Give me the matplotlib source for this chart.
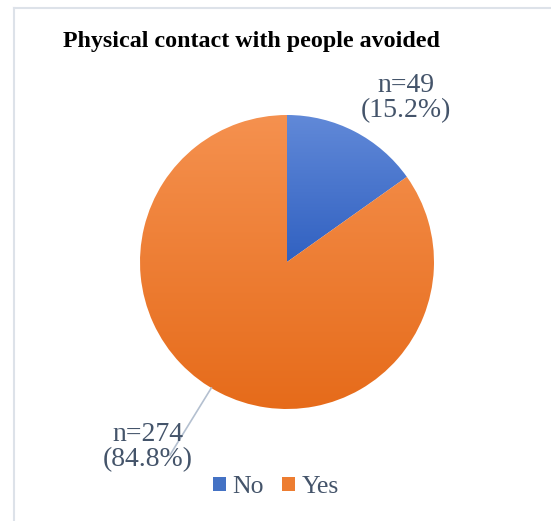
import numpy as np
import matplotlib
matplotlib.use("Agg")
import matplotlib.pyplot as plt
from matplotlib.colors import LinearSegmentedColormap
from matplotlib.lines import Line2D
from matplotlib.patches import Patch

# data
labels = ["No", "Yes"]
counts = [49, 274]
title = "Physical contact with people avoided"

# gradient ends (top, bottom) per slice
grad_colors = [("#6189d8", "#3161c1"), ("#f5914f", "#e66b1a")]
legend_colors = ["#4472c4", "#ed7d31"]
text_color = "#44546a"

plt.rcParams["font.family"] = ["Liberation Serif", "DejaVu Serif"]

W, H = 551, 521
fig = plt.figure(figsize=(W / 100, H / 100), dpi=100)

# pie box in pixels: centre (287, 262), radius 147
cx, cy, r = 287, 262, 147
ax = fig.add_axes([(cx - r) / W, (H - cy - r) / H, 2 * r / W, 2 * r / H])
ax.set_aspect("equal")
ax.axis("off")

wedges, _ = ax.pie(counts, startangle=90, counterclock=False, radius=1,
                   center=(0, 0), frame=False)
ax.set_xlim(-1, 1)
ax.set_ylim(-1, 1)

# vertical gradient fill per slice
for w, (top, bot) in zip(wedges, grad_colors):
    w.set_facecolor("none")
    w.set_edgecolor("none")
    verts = w.get_path().vertices
    ymin, ymax = verts[:, 1].min(), verts[:, 1].max()
    xmin, xmax = verts[:, 0].min(), verts[:, 0].max()
    cmap = LinearSegmentedColormap.from_list("g", [bot, top])
    grad = np.linspace(0, 1, 256).reshape(-1, 1)
    im = ax.imshow(grad, cmap=cmap, origin="lower", aspect="auto",
                   extent=[xmin, xmax, ymin, ymax], interpolation="bilinear")
    im.set_clip_path(w)

total = sum(counts)
lab = [f"n={c}\n({c / total * 100:.1f}%)" for c in counts]

ax.text(0.81, 1.116, lab[0], ha="center", va="center", fontsize=20,
        color=text_color, linespacing=1.0, clip_on=False)
ax.text(-0.946, -1.26, lab[1], ha="center", va="center", fontsize=20,
        color=text_color, linespacing=1.0, clip_on=False)

# leader line for the big slice
ang = np.deg2rad(-121)
ax.add_line(Line2D([np.cos(ang), -0.796], [np.sin(ang), -1.313],
                   color="#b4c0d0", lw=1.2, clip_on=False))

fig.text(63 / W, 1 - 42 / H, title, fontsize=17.3, fontweight="bold",
         color="black", ha="left", va="center")

handles = [Patch(facecolor=c, edgecolor="none") for c in legend_colors]
fig.legend(handles, labels, loc="center", bbox_to_anchor=(276 / W, 1 - 487 / H),
           ncol=2, frameon=False, fontsize=18.5, handlelength=0.5,
           handleheight=0.5, handletextpad=0.25, columnspacing=0.7,
           labelcolor=text_color)

# chart border (top and left visible)
bc = "#dde2e9"
fig.add_artist(Line2D([14 / W, 1], [1 - 8 / H, 1 - 8 / H], color=bc, lw=1.5))
fig.add_artist(Line2D([14 / W, 14 / W], [0, 1 - 8 / H], color=bc, lw=1.5))

fig.savefig("out.png", dpi=100)
